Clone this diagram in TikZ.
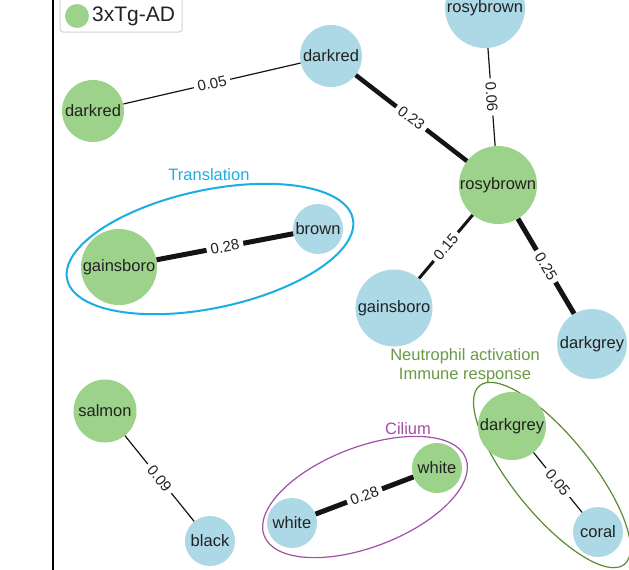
\documentclass[tikz,border=0pt]{standalone}
\usepackage{fontspec}
\setmainfont{Liberation Sans}
\definecolor{ngreen}{HTML}{9DD28A}
\definecolor{nblue}{HTML}{ADD8E6}
\definecolor{tcyan}{HTML}{1AAFE4}
\definecolor{cpurple}{HTML}{A24FA8}
\definecolor{ngline}{HTML}{5A8C32}
\definecolor{ngtext}{HTML}{6A9A45}
\definecolor{txt}{HTML}{222222}
\begin{document}
\begin{tikzpicture}[x=1pt,y=-1pt,
  nlab/.style={text=txt,font=\fontsize{16.5}{18}\selectfont},
  gnode/.style={circle,fill=ngreen,inner sep=0pt,minimum size=#1},
  bnode/.style={circle,fill=nblue,inner sep=0pt,minimum size=#1},
  link/.style={draw=black!92,line width=#1},
  elab/.style={midway,sloped,fill=white,inner xsep=4pt,inner ysep=0.5pt,text=txt,font=\fontsize{15}{15}\selectfont},
  grp/.style={font=\fontsize{16.5}{19}\selectfont,align=center}]
\useasboundingbox (0,0) rectangle (629,570);
\fill[white] (0,0) rectangle (629,570);
% axis line
\draw[line width=2pt] (53,0) -- (53,570);
% legend
\draw[draw=black!18,line width=1pt,rounded corners=3pt,fill=white] (60,-6) rectangle (182,32);
\node[circle,fill=ngreen,inner sep=0pt,minimum size=24pt] (legdot) at (77,16) {};
\node[text=txt,font=\fontsize{21}{21}\selectfont,anchor=west,inner sep=0pt] (legtxt) at (92,16) {3xTg-AD};
% group ellipses
\draw[tcyan,line width=2pt,rotate around={12:(210,249)}] (210,249) ellipse [x radius=146,y radius=59];
\draw[cpurple,line width=1.2pt,rotate around={21:(365,497)}] (365,497) ellipse [x radius=108,y radius=50];
\draw[ngline,line width=1.2pt,rotate around={-51:(552,475)}] (552,475) ellipse [x radius=115,y radius=39];
\node[grp,text=tcyan] (tTrans) at (209,175) {Translation};
\node[grp,text=cpurple] (tCil) at (408,429) {Cilium};
\node[grp,text=ngtext] (tNeu) at (465,366) {Neutrophil activation\\Immune response};
% nodes
\node[bnode=62pt,label={[nlab]center:darkred}] (drB) at (331,56) {};
\node[gnode=62pt,label={[nlab]center:darkred}] (drG) at (93,111) {};
\node[bnode=80pt,label={[nlab]center:rosybrown}] (rbB) at (485,8) {};
\node[gnode=78pt,label={[nlab]center:rosybrown}] (rbG) at (498,185) {};
\node[gnode=76pt,label={[nlab]center:gainsboro}] (gbG) at (119,267) {};
\node[bnode=50pt,label={[nlab]center:brown}] (brB) at (318,229) {};
\node[bnode=77pt,label={[nlab]center:gainsboro}] (gbB) at (394,308) {};
\node[bnode=70pt,label={[nlab]center:darkgrey}] (dgB) at (592,344) {};
\node[gnode=63pt,label={[nlab]center:salmon}] (saG) at (105,411) {};
\node[bnode=50pt,label={[nlab]center:black}] (bkB) at (210,541) {};
\node[bnode=50pt,label={[nlab]center:white}] (whB) at (292,523) {};
\node[gnode=50pt,label={[nlab]center:white}] (whG) at (437,468) {};
\node[gnode=68pt,label={[nlab]center:darkgrey}] (dgG) at (512,426) {};
\node[bnode=50pt,label={[nlab]center:coral}] (coB) at (598,532) {};
% links
\draw[link=1.2pt] (drG) -- node[elab]{0.05} (drB);
\draw[link=4.5pt] (drB) -- node[elab]{0.23} (rbG);
\draw[link=1.2pt] (rbB) -- node[elab]{0.06} (rbG);
\draw[link=3pt] (rbG) -- node[elab]{0.15} (gbB);
\draw[link=5pt] (rbG) -- node[elab]{0.25} (dgB);
\draw[link=5pt] (gbG) -- node[elab]{0.28} (brB);
\draw[link=1.2pt] (saG) -- node[elab]{0.09} (bkB);
\draw[link=5pt] (whB) -- node[elab]{0.28} (whG);
\draw[link=1.2pt] (dgG) -- node[elab]{0.05} (coB);
\end{tikzpicture}
\end{document}
